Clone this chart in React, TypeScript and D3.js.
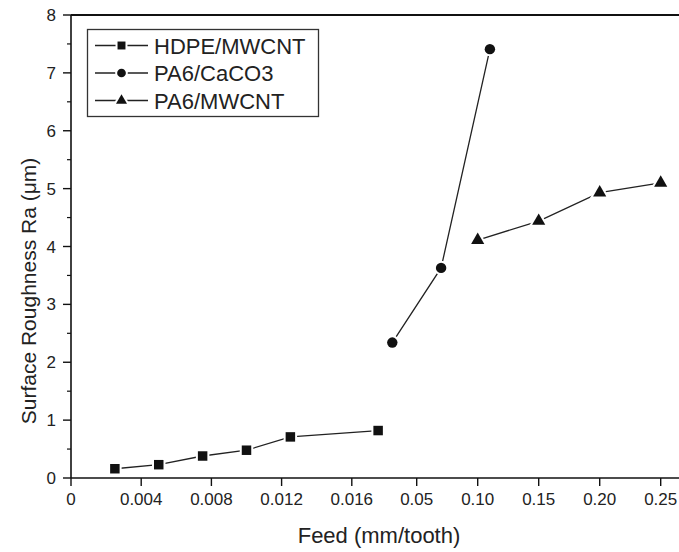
import { useRef, useEffect } from 'react';
import * as d3 from 'd3';

// HDPE/MWCNT uses the lower feed scale (0 - 0.016 mm/tooth)
const hdpeFeed: number[] = [0.0025, 0.005, 0.0075, 0.01, 0.0125, 0.0175];
const hdpeRa: number[] = [0.16, 0.23, 0.38, 0.48, 0.71, 0.82];

// PA6 series use the upper feed scale (0.05 - 0.25 mm/tooth)
const caco3Feed: number[] = [0.03, 0.07, 0.11];
const caco3Ra: number[] = [2.34, 3.63, 7.41];

const pa6Feed: number[] = [0.10, 0.15, 0.20, 0.25];
const pa6Ra: number[] = [4.11, 4.44, 4.93, 5.10];

const lowTicks: number[] = [0, 0.004, 0.008, 0.012, 0.016];
const lowTickLabels: string[] = ['0', '0.004', '0.008', '0.012', '0.016'];
const highTicks: number[] = [0.05, 0.10, 0.15, 0.20, 0.25];
const highTickLabels: string[] = ['0.05', '0.10', '0.15', '0.20', '0.25'];
const yTicks: number[] = [0, 1, 2, 3, 4, 5, 6, 7, 8];

const legendNames: string[] = ['HDPE/MWCNT', 'PA6/CaCO3', 'PA6/MWCNT'];

export default function App() {
  const chartRef = useRef<SVGSVGElement | null>(null);

  useEffect(() => {
    if (!chartRef.current) return;

    const width = 679;
    const height = 552;
    const left = 71;
    const top = 15;
    const bottom = 478;
    const font = '"Liberation Sans", Arial, sans-serif';
    const ink = '#111';

    const svg = d3.select(chartRef.current)
      .attr('width', width)
      .attr('height', height);
    svg.selectAll('*').remove();

    // two x scales sharing one axis
    const xLow = d3.scaleLinear().domain([0, 0.016]).range([71, 351.8]);
    const xHigh = d3.scaleLinear().domain([0.05, 0.25]).range([416.7, 660.7]);
    const y = d3.scaleLinear().domain([0, 8]).range([bottom, top]);

    // frame: left axis, bottom axis, top border
    svg.append('line').attr('x1', left).attr('x2', left).attr('y1', top).attr('y2', bottom)
      .attr('stroke', ink).attr('stroke-width', 1.6);
    svg.append('line').attr('x1', left).attr('x2', width).attr('y1', bottom).attr('y2', bottom)
      .attr('stroke', ink).attr('stroke-width', 1.6);
    svg.append('line').attr('x1', left).attr('x2', width).attr('y1', top).attr('y2', top)
      .attr('stroke', ink).attr('stroke-width', 2);

    // y ticks (major + minor)
    const yMinor = d3.range(0.5, 8, 1);
    svg.selectAll('.ymaj').data(yTicks).enter().append('line')
      .attr('x1', left - 8).attr('x2', left)
      .attr('y1', (d) => y(d)).attr('y2', (d) => y(d))
      .attr('stroke', ink).attr('stroke-width', 1.4);
    svg.selectAll('.ymin').data(yMinor).enter().append('line')
      .attr('x1', left - 4).attr('x2', left)
      .attr('y1', (d) => y(d)).attr('y2', (d) => y(d))
      .attr('stroke', ink).attr('stroke-width', 1.2);
    svg.selectAll('.ylab').data(yTicks).enter().append('text')
      .attr('x', 56).attr('y', (d) => y(d) + 6)
      .attr('text-anchor', 'end')
      .attr('font-family', font).attr('font-size', '17px').attr('fill', '#222')
      .text((d) => String(d));

    // x ticks
    const xTickPos = [...lowTicks.map((d) => xLow(d)), ...highTicks.map((d) => xHigh(d))];
    const xTickText = [...lowTickLabels, ...highTickLabels];
    svg.selectAll('.xmaj').data(xTickPos).enter().append('line')
      .attr('x1', (d) => d).attr('x2', (d) => d)
      .attr('y1', bottom).attr('y2', bottom + 8)
      .attr('stroke', ink).attr('stroke-width', 1.4);
    svg.selectAll('.xlab').data(xTickPos).enter().append('text')
      .attr('x', (d) => d).attr('y', 505)
      .attr('text-anchor', 'middle')
      .attr('font-family', font).attr('font-size', '17px').attr('fill', '#222')
      .text((_d, i) => xTickText[i]);

    // axis titles
    svg.append('text')
      .attr('x', 379).attr('y', 543)
      .attr('text-anchor', 'middle')
      .attr('font-family', font).attr('font-size', '22px').attr('fill', '#222')
      .text('Feed (mm/tooth)');
    svg.append('text')
      .attr('transform', 'translate(36,291) rotate(-90)')
      .attr('text-anchor', 'middle')
      .attr('font-family', font).attr('font-size', '21px').attr('fill', '#222')
      .text('Surface Roughness Ra (μm)');

    const line = d3.line<[number, number]>().x((d) => d[0]).y((d) => d[1]);
    const series = [
      { pts: hdpeFeed.map((f, i) => [xLow(f), y(hdpeRa[i])] as [number, number]), sym: d3.symbolSquare, size: 90 },
      { pts: caco3Feed.map((f, i) => [xHigh(f), y(caco3Ra[i])] as [number, number]), sym: d3.symbolCircle, size: 85 },
      { pts: pa6Feed.map((f, i) => [xHigh(f), y(pa6Ra[i])] as [number, number]), sym: d3.symbolTriangle, size: 75 },
    ];

    series.forEach((s) => {
      svg.append('path').attr('d', line(s.pts)).attr('fill', 'none')
        .attr('stroke', '#222').attr('stroke-width', 1.3);
      // white halo leaves a small gap between line and marker
      svg.selectAll(null).data(s.pts).enter().append('path')
        .attr('d', d3.symbol().type(s.sym).size(s.size)())
        .attr('transform', (d) => `translate(${d[0]},${d[1]})`)
        .attr('fill', ink)
        .attr('stroke', 'white').attr('stroke-width', 4)
        .style('paint-order', 'stroke');
    });

    // legend
    const lg = svg.append('g');
    lg.append('rect').attr('x', 87.5).attr('y', 29.5).attr('width', 231).attr('height', 87)
      .attr('fill', 'white').attr('stroke', '#333').attr('stroke-width', 1.3);
    legendNames.forEach((name, i) => {
      const cy = 45.5 + i * 27.5;
      lg.append('line').attr('x1', 95).attr('x2', 148).attr('y1', cy).attr('y2', cy)
        .attr('stroke', '#222').attr('stroke-width', 1.3);
      lg.append('path')
        .attr('d', d3.symbol().type(series[i].sym).size(series[i].size * 0.7)())
        .attr('transform', `translate(121.5,${cy})`)
        .attr('fill', ink)
        .attr('stroke', 'white').attr('stroke-width', 4)
        .style('paint-order', 'stroke');
      lg.append('text').attr('x', 154).attr('y', cy + 8)
        .attr('font-family', font).attr('font-size', '22px').attr('fill', '#222')
        .text(name);
    });
  }, []);

  return (
    <div>
      <svg ref={chartRef} style={{ position: 'absolute', left: 0, top: 0 }}></svg>
    </div>
  );
}
